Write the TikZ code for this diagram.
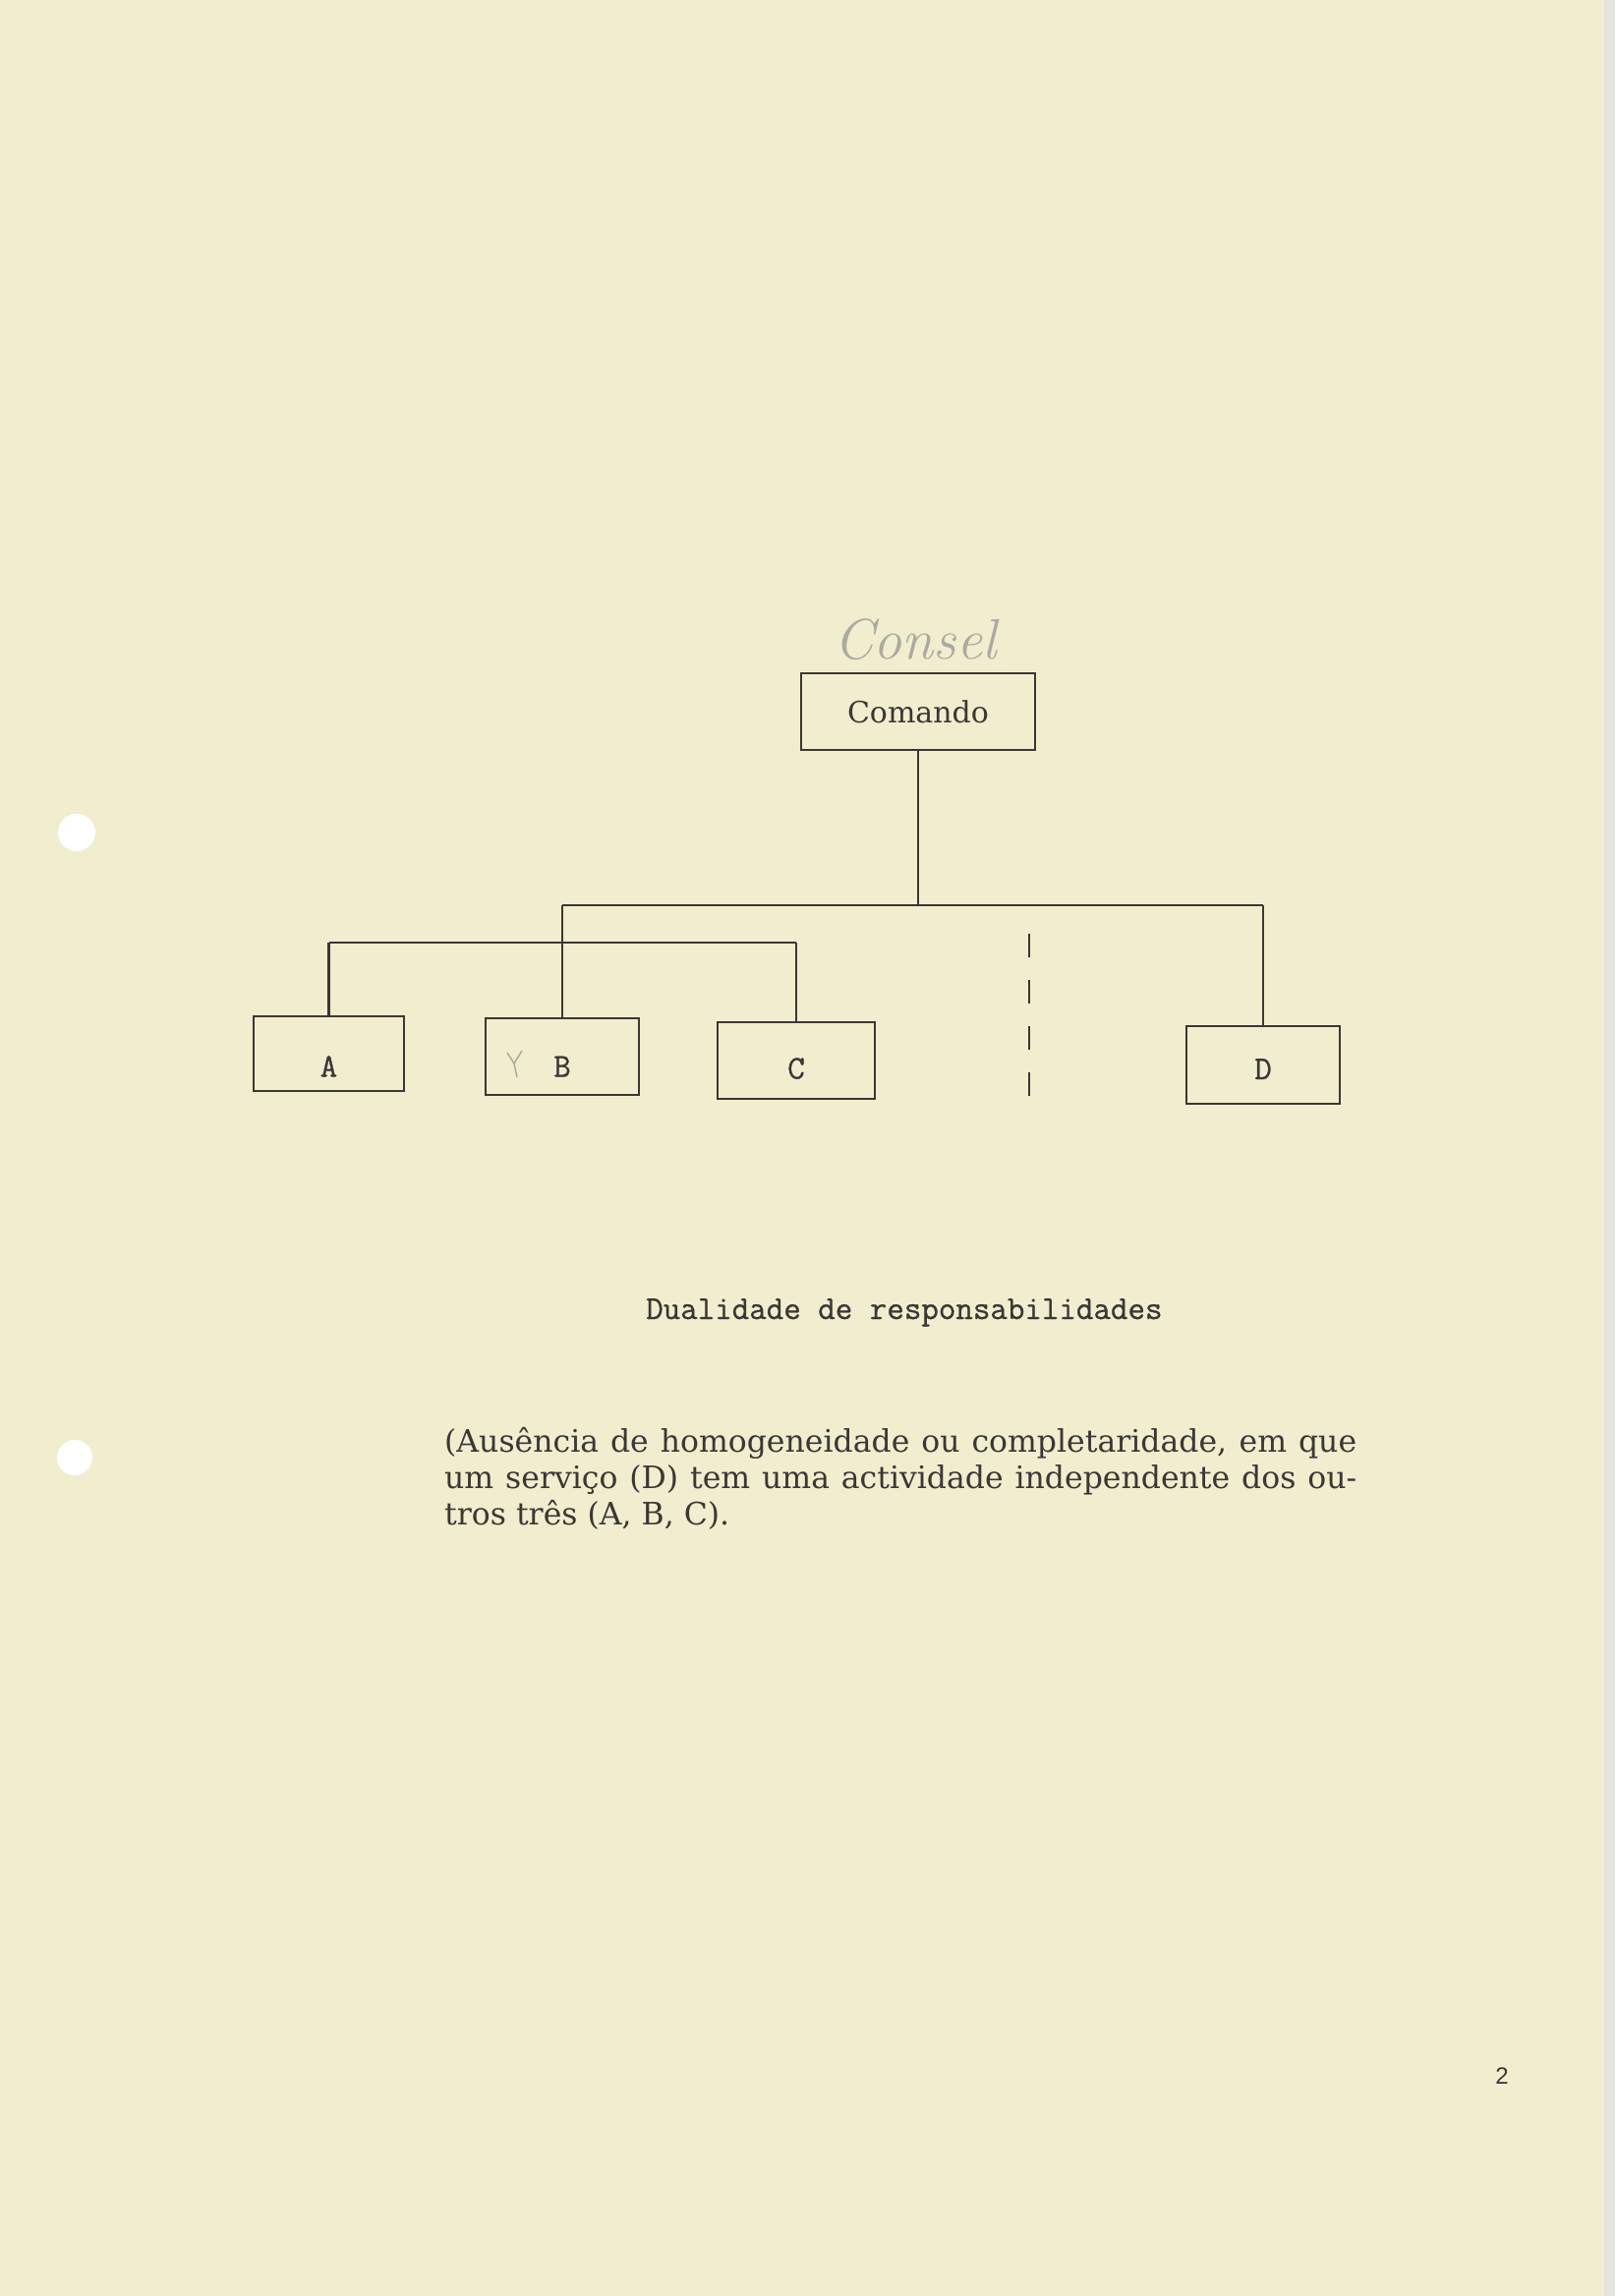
\documentclass[tikz,border=0pt]{standalone}
\usepackage{fontspec}
\newfontfamily\typeface{DejaVu Serif}
\newfontfamily\typewriter[FakeBold=0.8]{Latin Modern Mono}
\newfontfamily\numface{Liberation Sans}
\definecolor{paper}{RGB}{241,237,207}
\definecolor{ink}{RGB}{58,56,52}
\definecolor{pencil}{RGB}{170,170,160}
\definecolor{edge}{RGB}{228,229,222}
\tikzset{
  unit/.style={draw=ink, line width=2.2pt, minimum width=156pt, minimum height=78pt,
    inner sep=0pt, text=ink, font=\typewriter\fontsize{34}{34}\selectfont,
    text height=40pt, text depth=0pt},
  head/.style={draw=ink, line width=2.2pt, minimum width=238pt, minimum height=78pt,
    inner sep=0pt, text=ink, font=\typeface\fontsize{30}{30}\selectfont},
  wire/.style={draw=ink, line width=2.2pt},
}
\begin{document}
\begin{tikzpicture}[x=1pt,y=-1pt]
    \fill[paper] (0,0) rectangle (1643,2336);% the sheet
    \useasboundingbox (0,0) rectangle (1643,2336);
    \fill[edge] (1632,0) rectangle (1643,2336);
    \fill[white] (78,847) circle[radius=19pt];% punched holes
    \fill[white] (76,1483) circle[radius=18pt];
    \coordinate (BusUpper) at (0,921);
    \coordinate (BusLower) at (0,959);
    \coordinate (SepTop)   at (1047,950);
    \coordinate (SepBot)   at (1047,1115);
    \node[font=\itshape\fontsize{58}{58}\selectfont, text=pencil] (consel) at (931,651) {Consel};
    \node[head] (Comando) at (934,724) {Comando};
    \node[unit, minimum width=153pt, minimum height=76pt, text height=47pt] (A) at (334.5,1072) {A};
    \node[unit, text height=41pt] (B) at (572,1075) {B};
    \node[unit, minimum width=160pt, text height=37pt] (C) at (810,1079) {C};
    \node[unit, minimum height=79pt, text height=29pt] (D) at (1285,1083.5) {D};
    \draw[wire] (Comando.south) -- (Comando.south |- BusUpper);% from the top
    \draw[wire] (B.north |- BusUpper) -- (D.north |- BusUpper);
    \draw[wire] (B.north |- BusUpper) -- (B.north);
    \draw[wire] (D.north |- BusUpper) -- (D.north);
    \draw[wire] (A.north |- BusLower) -- (C.north |- BusLower);% A and C
    \draw[wire] (A.north) -- (A.north |- BusLower);
    \draw[wire] (C.north) -- (C.north |- BusLower);
    \draw[wire, dash pattern=on 24pt off 23pt] (SepTop) -- (SepBot);
    \draw[pencil, line width=1.5pt] (516,1071) -- (523,1082) -- (531,1069) (523,1082) -- (526,1096);
    \node[anchor=base west, inner sep=0pt, text=ink, font=\typewriter\fontsize{34}{34}\selectfont]
      (caption) at (657,1342) {Dualidade de responsabilidades};
    \node[anchor=base west, inner sep=0pt, text=ink, text width=928pt, align=justify,
      font=\typeface\fontsize{31.5}{37}\selectfont] (note) at (452,1477)
      {(Ausência de homogeneidade ou completaridade, em que\linebreak
       um serviço (D) tem uma actividade independente dos ou-\linebreak
       tros três (A, B, C).};
    \node[text=ink, font=\numface\fontsize{24}{24}\selectfont] (pagenum) at (1528,2112) {2};
\end{tikzpicture}
\end{document}
